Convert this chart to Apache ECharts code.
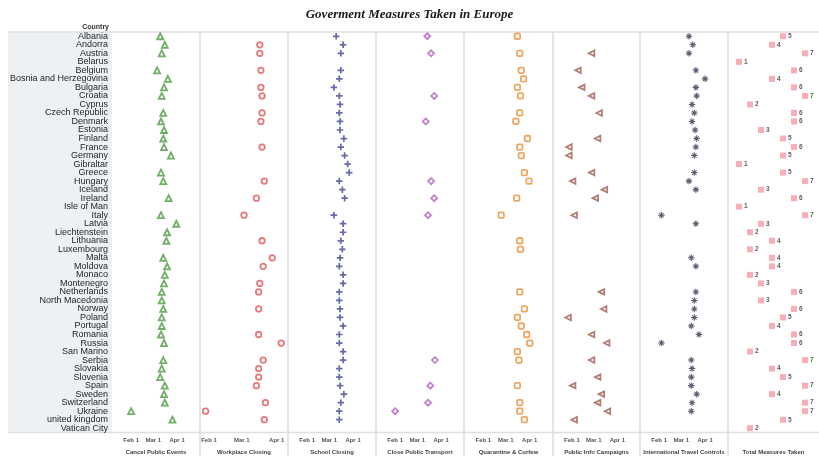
<!DOCTYPE html>
<html><head><meta charset="utf-8">
<script src="https://cdn.jsdelivr.net/npm/echarts@6/dist/echarts.min.js"></script>
<style>html,body{margin:0;padding:0;background:#fff}#c{width:819px;height:456px}</style>
</head><body><div id="c"></div>
<script>
const YEAR = '2020-';
const countries = ['Albania','Andorra','Austria','Belarus','Belgium','Bosnia and Herzegovina','Bulgaria','Croatia','Cyprus','Czech Republic',
 'Denmark','Estonia','Finland','France','Germany','Gibraltar','Greece','Hungary','Iceland','Ireland',
 'Isle of Man','Italy','Latvia','Liechtenstein','Lithuania','Luxembourg','Malta','Moldova','Monaco','Montenegro',
 'Netherlands','North Macedonia','Norway','Poland','Portugal','Romania','Russia','San Marino','Serbia','Slovakia',
 'Slovenia','Spain','Sweden','Switzerland','Ukraine','united kingdom','Vatican City'];

const cancelPublicEvents = ['03-10','03-16','03-12',null,'03-06','03-20','03-15','03-12',null,'03-14',
 '03-11','03-15','03-14','03-15','03-24',null,'03-11','03-14',null,'03-21',
 null,'03-11','03-31','03-19','03-18',null,'03-14','03-19','03-16','03-15',
 '03-12','03-12','03-14','03-12','03-12','03-11','03-15',null,'03-14','03-12',
 '03-10','03-16','03-15','03-16','02-01','03-26',null];
const workplaceClosing = [null,'03-17','03-17',null,'03-18',null,'03-18','03-19',null,'03-19',
 '03-18',null,null,'03-19',null,null,null,'03-21',null,'03-14',
 null,'03-03',null,null,'03-19',null,'03-28','03-20',null,'03-17',
 '03-16',null,'03-16',null,null,'03-16','04-05',null,'03-20','03-16',
 '03-16','03-14',null,'03-22','01-29','03-21',null];
const schoolClosing = ['03-10','03-19','03-16',null,'03-16','03-14','03-07','03-14','03-15','03-14',
 '03-15','03-15','03-20','03-16','03-21','03-25','03-27','03-14','03-18','03-21',
 null,'03-07','03-19','03-19','03-16','03-18','03-15','03-14','03-19','03-19',
 '03-14','03-14','03-15','03-15','03-19','03-14','03-14','03-19','03-19','03-14',
 '03-14','03-15','03-20','03-16','03-14','03-14',null];
const closePublicTransport = ['03-14',null,'03-19',null,null,null,null,'03-23',null,null,
 '03-12',null,null,null,null,null,null,'03-19',null,'03-23',
 null,'03-15',null,null,null,null,null,null,null,null,
 null,null,null,null,null,null,null,null,'03-24',null,
 null,'03-18',null,'03-15','02-01',null,null];
const quarantineCurfew = ['03-16',null,'03-19',null,'03-21','03-24','03-16','03-20',null,'03-19',
 '03-14',null,'03-29','03-19','03-21',null,'03-25','03-31',null,'03-15',
 null,'02-24',null,null,'03-19','03-20',null,null,null,null,
 '03-19',null,'03-25','03-16','03-21','03-28','04-01','03-16','03-18',null,
 null,'03-16',null,'03-19','03-19','03-25',null];
const publicInfoCampaigns = [null,null,'02-27',null,'02-09',null,'02-14','02-27',null,'03-08',
 null,null,'03-06','01-28','01-28',null,'02-27','02-02','03-15','03-03',
 null,'02-04',null,null,null,null,null,null,null,null,
 '03-11',null,'03-14','01-27',null,'02-27','03-18',null,'02-27',null,
 '03-06','02-02','03-11','03-06','03-19','02-04',null];
const internationalTravelControls = ['03-11','03-16','03-11',null,'03-20','04-01','03-20','03-21','03-15','03-18',
 '03-15','03-19','03-21','03-20','03-18',null,'03-18','03-11','03-20',null,
 null,'02-04','03-20',null,null,null,'03-14','03-20',null,null,
 '03-20','03-18','03-18','03-18','03-14','03-24','02-04',null,'03-14','03-15',
 '03-14','03-14','03-21','03-15','03-14',null,null];
const totalMeasures = [5,4,7,1,6,4,6,7,2,6, 6,3,5,6,5,1,5,7,3,6, 1,7,3,2,4,2,4,4,2,3, 6,3,6,5,4,6,6,2,7,4, 5,7,4,7,7,5,2];

const panelTitles = ['Cancel Public Events','Workplace Closing','School Closing','Close Public Transport',
 'Quarantine & Curfew','Public Info Campaigns','International Travel Controls','Total Measures Taken'];
const tickDates = ['2020-02-01','2020-03-01','2020-04-01'];
const tickLabels = ['Feb 1','Mar 1','Apr 1'];

const edges = [112,200,288,376,464,553,640,728,819];
const ranges = [['2020-01-07','2020-05-01'],['2020-01-24','2020-04-11'],['2020-01-07','2020-05-01'],['2020-01-07','2020-05-01'],
 ['2020-01-07','2020-05-01'],['2020-01-07','2020-05-01'],['2020-01-07','2020-05-01']];
const seriesArrays = [cancelPublicEvents,workplaceClosing,schoolClosing,closePublicTransport,quarantineCurfew,publicInfoCampaigns,internationalTravelControls];

const asterisk = 'path://M4.2,0H5.8V10H4.2Z M0,4.2H10V5.8H0Z M1.1,2.2L2.2,1.1L8.9,7.8L7.8,8.9Z M7.8,1.1L8.9,2.2L2.2,8.9L1.1,7.8Z';
const plus = 'path://M3.3,0H5.7V3.3H9V5.7H5.7V9H3.3V5.7H0V3.3H3.3Z';
const leftTri = 'path://M0,5L9,0L9,10Z';
const styles = [
 {symbol:'triangle', size:6, color:'#4f9a45', hollow:true},
 {symbol:'circle', size:5.5, color:'#e15759', hollow:true},
 {symbol:plus, size:6.5, color:'#3d4596', hollow:false},
 {symbol:'diamond', size:6, color:'#b463c0', hollow:true},
 {symbol:'roundRect', size:5.5, color:'#e8913a', hollow:true},
 {symbol:leftTri, size:5.5, color:'#9c5f52', hollow:true},
 {symbol:asterisk, size:6.5, color:'#2e3a4e', hollow:false}
];

const ts = s => echarts.time.parse(s).getTime();
const TOP = 32, H = 400.5;
const grids = [], xAxes = [], yAxes = [], series = [];
const tickTs = tickDates.map(ts);
for (let i = 0; i < 8; i++) {
  grids.push({left: edges[i], top: TOP, width: edges[i+1]-edges[i], height: H, containLabel:false, outerBoundsMode:'none'});
  yAxes.push({type:'category', gridIndex:i, data:countries, inverse:true,
    axisLine:{show:false}, axisTick:{show:false}, splitLine:{show:false},
    axisLabel:{show:i===0, interval:0, fontSize:9, color:'#1e1e1e', fontFamily:'Liberation Sans, Arial', margin:4}});
  const nameCfg = {name: panelTitles[i], nameLocation:'middle', nameGap:17,
    nameTextStyle:{fontSize:6, fontWeight:'bold', color:'#444', fontFamily:'Liberation Sans, Arial'}};
  if (i < 7) {
    xAxes.push(Object.assign({type:'value', gridIndex:i, min:ts(ranges[i][0]), max:ts(ranges[i][1]),
      axisLine:{show:false}, axisTick:{show:false}, splitLine:{show:false},
      axisLabel:{customValues: tickTs, fontSize:6, fontWeight:'bold', color:'#555', margin:5,
        fontFamily:'Liberation Sans, Arial', hideOverlap:false,
        formatter: function(v){ let best = 0; for (let j=1;j<tickTs.length;j++) if (Math.abs(tickTs[j]-v) < Math.abs(tickTs[best]-v)) best=j; return tickLabels[best]; }}
    }, nameCfg));
    const st = styles[i];
    const data = [];
    seriesArrays[i].forEach((d, k) => { if (d) data.push([ts(YEAR + d), countries[k]]); });
    series.push({type:'scatter', xAxisIndex:i, yAxisIndex:i, symbol:st.symbol, symbolSize:st.size, data,
      itemStyle: st.hollow ? {color:'#fff', borderColor:st.color, borderWidth:1.8} : {color:st.color}});
  } else {
    xAxes.push(Object.assign({type:'value', gridIndex:i, min:0, max:(edges[8]-edges[7])/11,
      axisLine:{show:false}, axisTick:{show:false}, splitLine:{show:false}, axisLabel:{show:false}}, nameCfg));
    series.push({type:'scatter', xAxisIndex:i, yAxisIndex:i, symbol:'rect', symbolSize:6,
      itemStyle:{color:'#f59aa5'},
      label:{show:true, position:'right', distance:2, fontSize:6.5, fontWeight:'bold', color:'#333',
        fontFamily:'Liberation Sans, Arial', formatter: p => p.value[0]},
      data: totalMeasures.map((v,k) => [v, countries[k]])});
  }
}

const graphics = [
  {type:'rect', z:-10, shape:{x:8, y:TOP, width:104, height:H}, style:{fill:'#eef1f4'}},
  {type:'line', shape:{x1:8, y1:TOP, x2:819, y2:TOP}, style:{stroke:'#dfdfdf', lineWidth:1.5}},
  {type:'line', shape:{x1:8, y1:TOP+H, x2:819, y2:TOP+H}, style:{stroke:'#dfdfdf', lineWidth:1.5}},
  {type:'text', x:109, y:27, style:{text:'Country', fontSize:7, fontWeight:'bold', fill:'#333',
    fontFamily:'Liberation Sans, Arial', textAlign:'right', textVerticalAlign:'middle'}}
];
for (let i = 1; i < 8; i++) graphics.push({type:'line', shape:{x1:edges[i], y1:TOP, x2:edges[i], y2:456},
  style:{stroke:'#dcdcdc', lineWidth:1.5}});

const chart = echarts.init(document.getElementById('c'), null, {renderer:'canvas'});
chart.setOption({
  animation:false,
  backgroundColor:'#fff',
  title:{text:'Goverment Measures Taken in Europe', left:'center', top:3,
    textStyle:{fontFamily:'Liberation Serif, Times New Roman', fontStyle:'italic', fontWeight:'bold', fontSize:13, color:'#1a1a1a'}},
  grid: grids, xAxis: xAxes, yAxis: yAxes, series, graphic: graphics
});
</script></body></html>
